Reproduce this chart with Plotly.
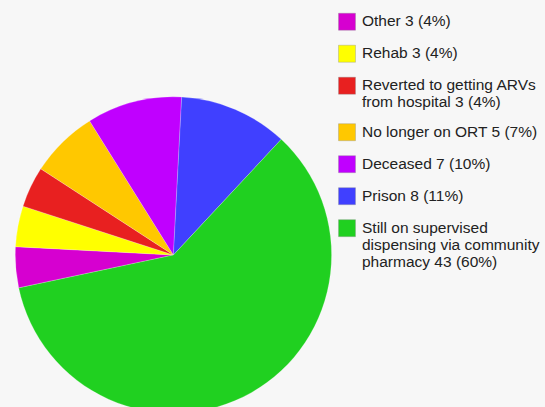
import plotly.graph_objects as go

categories = [
    "Other",
    "Rehab",
    "Reverted to getting ARVs<br>from hospital",
    "No longer on ORT",
    "Deceased",
    "Prison",
    "Still on supervised<br>dispensing via community<br>pharmacy",
]
counts = [3, 3, 3, 5, 7, 8, 43]
colors = ["#d600d0", "#ffff00", "#e82020", "#ffc800", "#c000ff", "#4040ff", "#20d020"]

total = sum(counts)
legend_labels = [
    '<span style="font-size:15.5px">%s %d (%d%%)</span><br> ' % (c, v, round(v * 100 / total))
    for c, v in zip(categories, counts)
]

FIG_H = 418

fig = go.Figure(
    go.Pie(
        labels=legend_labels,
        values=counts,
        sort=False,
        direction="clockwise",
        rotation=258,
        textinfo="none",
        hoverinfo="label+value+percent",
        marker=dict(colors=colors, line=dict(color="rgba(255,255,255,0.35)", width=0.6)),
        domain=dict(x=[15.5 / 545, 336.5 / 545], y=[1 - 415.5 / FIG_H, 1 - 94.5 / FIG_H]),
    )
)

fig.update_layout(
    width=545,
    height=FIG_H,
    margin=dict(l=0, r=0, t=0, b=0),
    paper_bgcolor="#f7f7f7",
    plot_bgcolor="#f7f7f7",
    font=dict(family="Liberation Sans, Arial, sans-serif", color="#222222"),
    legend=dict(
        x=0.6,
        xanchor="left",
        y=1 - 8 / FIG_H,
        yanchor="top",
        font=dict(size=11.15, color="#222222"),
        valign="top",
        bgcolor="rgba(0,0,0,0)",
        traceorder="normal",
    ),
    showlegend=True,
)

post = """
document.body.style.margin = '0';
document.body.style.overflow = 'hidden';
document.body.style.background = '#f7f7f7';
document.querySelectorAll('.legendpoints path').forEach(function(p){
  p.setAttribute('d', 'M13.5,8.5H-3.5V-8.5H13.5Z');
  p.style.stroke = '#8a8a8a';
  p.style.strokeWidth = '1px';
});
document.querySelectorAll('.legendtext').forEach(function(t){
  var lines = t.querySelectorAll('tspan.line');
  for (var k = 1; k < lines.length - 1; k++) {
    lines[k].setAttribute('dy', (k * 17) + 'px');
  }
});
"""

fig.write_html("out.html", post_script=post, config={"displayModeBar": False})
